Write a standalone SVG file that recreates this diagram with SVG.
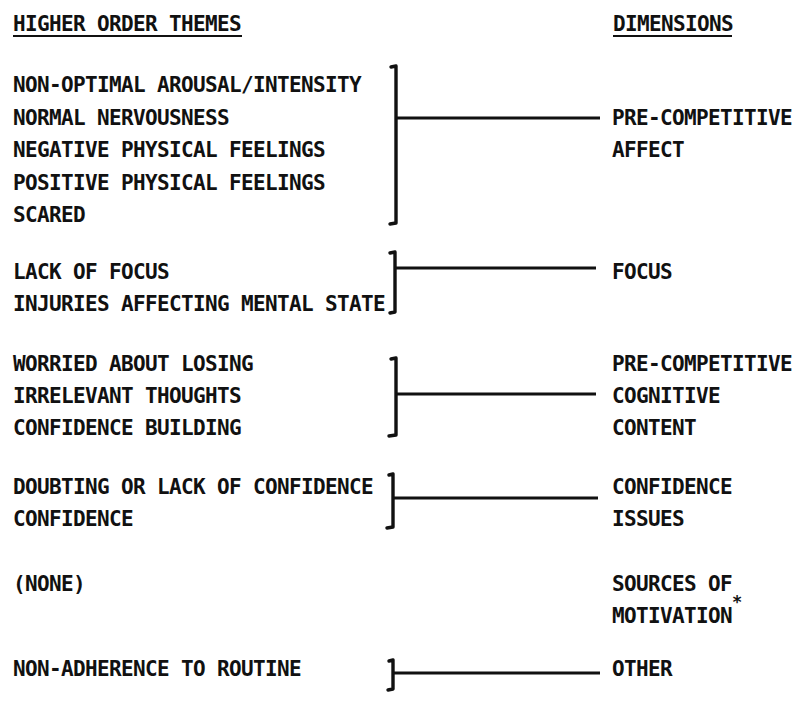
<svg xmlns="http://www.w3.org/2000/svg" width="794" height="708" viewBox="0 0 794 708">
<style>
text{font-family:"DejaVu Sans Mono","Liberation Mono",monospace;font-weight:bold;font-size:21px;letter-spacing:-0.64px;fill:#111}
.br{fill:none;stroke:#111;stroke-width:3.4;stroke-linecap:round;stroke-linejoin:round}
.ln{fill:none;stroke:#111;stroke-width:2.8}
.ul{stroke:#111;stroke-width:2}
.ast{font-size:17px;letter-spacing:0}
</style>
<rect width="794" height="708" fill="#fff"/>
<g id="header-themes"><text x="13" y="31">HIGHER ORDER THEMES</text><line class="ul" x1="13" y1="36" x2="242" y2="36"/></g>
<g id="header-dimensions"><text x="613" y="31">DIMENSIONS</text><line class="ul" x1="613" y1="36" x2="732" y2="36"/></g>

<g id="themes-affect">
<text x="13" y="92">NON-OPTIMAL AROUSAL/INTENSITY</text>
<text x="13" y="124.5">NORMAL NERVOUSNESS</text>
<text x="13" y="157">NEGATIVE PHYSICAL FEELINGS</text>
<text x="13" y="189.5">POSITIVE PHYSICAL FEELINGS</text>
<text x="13" y="222">SCARED</text>
</g>
<g id="themes-focus">
<text x="13" y="279">LACK OF FOCUS</text>
<text x="13" y="311">INJURIES AFFECTING MENTAL STATE</text>
</g>
<g id="themes-cognitive">
<text x="13" y="371">WORRIED ABOUT LOSING</text>
<text x="13" y="403">IRRELEVANT THOUGHTS</text>
<text x="13" y="435">CONFIDENCE BUILDING</text>
</g>
<g id="themes-confidence">
<text x="13" y="494">DOUBTING OR LACK OF CONFIDENCE</text>
<text x="13" y="526">CONFIDENCE</text>
</g>
<g id="themes-motivation"><text x="13" y="591">(NONE)</text></g>
<g id="themes-other"><text x="13" y="676">NON-ADHERENCE TO ROUTINE</text></g>

<g id="dim-affect"><text x="612" y="124.5">PRE-COMPETITIVE</text><text x="612" y="157">AFFECT</text></g>
<g id="dim-focus"><text x="612" y="279">FOCUS</text></g>
<g id="dim-cognitive"><text x="612" y="371">PRE-COMPETITIVE</text><text x="612" y="403">COGNITIVE</text><text x="612" y="435">CONTENT</text></g>
<g id="dim-confidence"><text x="612" y="494">CONFIDENCE</text><text x="612" y="526">ISSUES</text></g>
<g id="dim-motivation"><text x="612" y="591">SOURCES OF</text><text x="612" y="623">MOTIVATION</text><text class="ast" x="732" y="608">*</text></g>
<g id="dim-other"><text x="612" y="676">OTHER</text></g>

<g id="connectors">
<path class="br" d="M391,67 L396,66 L396,223 L390,224"/>
<line class="ln" x1="396" y1="118" x2="600" y2="118"/>
<path class="br" d="M390,253 L395,252 L395,312 L390,313"/>
<line class="ln" x1="395" y1="268" x2="596" y2="268"/>
<path class="br" d="M391,359 L396,358 L396,435 L389,436"/>
<line class="ln" x1="396" y1="394" x2="596" y2="394"/>
<path class="br" d="M389,475 L393,474 L393,527 L387,528"/>
<line class="ln" x1="393" y1="498" x2="598" y2="498"/>
<path class="br" d="M389,661 L393,660 L393,689 L388,690"/>
<line class="ln" x1="393" y1="673" x2="600" y2="673"/>
</g>
</svg>
